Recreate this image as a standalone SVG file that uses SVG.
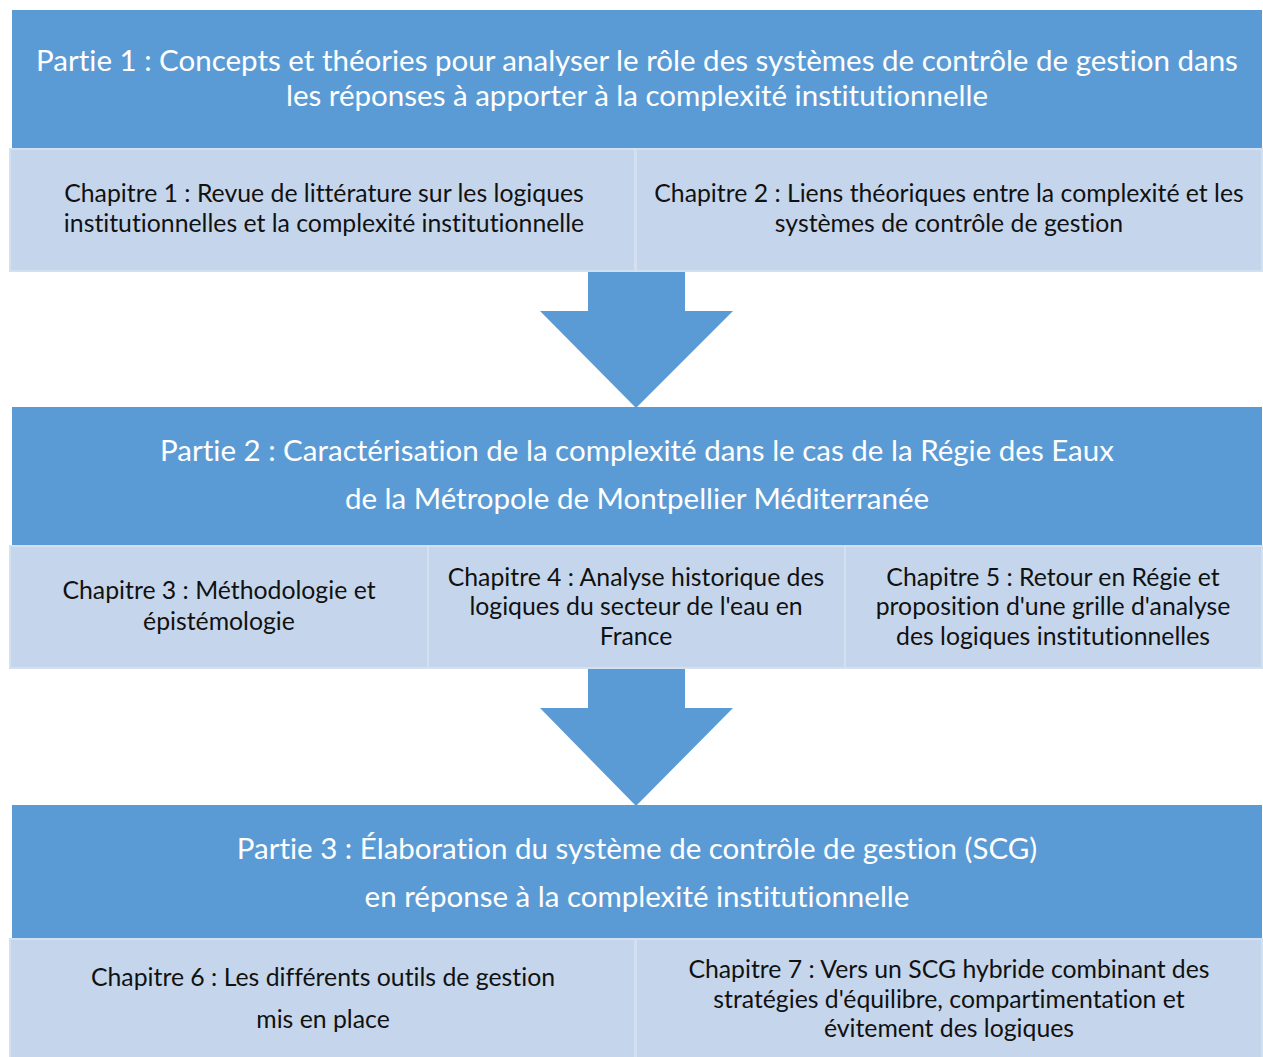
<svg xmlns="http://www.w3.org/2000/svg" width="1263" height="1057" viewBox="0 0 1263 1057">
<style>
.part{fill:#5B9BD5}
.chap{fill:#C5D6EC;stroke:#D3E0F1;stroke-width:2}
.arrow{fill:#5B9BD5}
.pt,.ct{font-family:Lato,"Open Sans","Liberation Sans",sans-serif;text-anchor:middle;font-variant-ligatures:none;font-feature-settings:"liga" 0,"dlig" 0,"clig" 0}
.pt{font-size:29.5px;fill:#FFFFFF}
.ct{font-size:24.8px;fill:#111111}
</style>
<rect width="1263" height="1057" fill="#FFFFFF"/>
<g id="connectors">
<polygon class="arrow" points="588,271 685,271 685,311 733,311 636,408 540,311 588,311"/>
<polygon class="arrow" points="588,668 685,668 685,708 733,708 636,806 540,708 588,708"/>
</g>
<g id="partie1">
<rect class="part" x="12" y="10" width="1250" height="138"/>
<text class="pt" x="637" y="71">Partie 1 : Concepts et théories pour analyser le rôle des systèmes de contrôle de gestion dans</text>
<text class="pt" x="637" y="106">les réponses à apporter à la complexité institutionnelle</text>
</g>
<g id="chapitre1">
<rect class="chap" x="10" y="149" width="625" height="122"/>
<text class="ct" x="324" y="202">Chapitre 1 : Revue de littérature sur les logiques</text>
<text class="ct" x="324" y="232">institutionnelles et la complexité institutionnelle</text>
</g>
<g id="chapitre2">
<rect class="chap" x="636" y="149" width="626" height="122"/>
<text class="ct" x="949" y="202">Chapitre 2 : Liens théoriques entre la complexité et les</text>
<text class="ct" x="949" y="232">systèmes de contrôle de gestion</text>
</g>
<g id="partie2">
<rect class="part" x="12" y="407" width="1250" height="138"/>
<text class="pt" x="637" y="461">Partie 2 : Caractérisation de la complexité dans le cas de la Régie des Eaux</text>
<text class="pt" x="637" y="509">de la Métropole de Montpellier Méditerranée</text>
</g>
<g id="chapitre3">
<rect class="chap" x="10" y="546" width="418" height="122"/>
<text class="ct" x="219" y="599">Chapitre 3 : Méthodologie et</text>
<text class="ct" x="219" y="630">épistémologie</text>
</g>
<g id="chapitre4">
<rect class="chap" x="428" y="546" width="417" height="122"/>
<text class="ct" x="636" y="586">Chapitre 4 : Analyse historique des</text>
<text class="ct" x="636" y="615">logiques du secteur de l'eau en</text>
<text class="ct" x="636" y="645">France</text>
</g>
<g id="chapitre5">
<rect class="chap" x="845" y="546" width="417" height="122"/>
<text class="ct" x="1053" y="586">Chapitre 5 : Retour en Régie et</text>
<text class="ct" x="1053" y="615">proposition d'une grille d'analyse</text>
<text class="ct" x="1053" y="645">des logiques institutionnelles</text>
</g>
<g id="partie3">
<rect class="part" x="12" y="805" width="1250" height="133"/>
<text class="pt" x="637" y="859">Partie 3 : Élaboration du système de contrôle de gestion (SCG)</text>
<text class="pt" x="637" y="907">en réponse à la complexité institutionnelle</text>
</g>
<g id="chapitre6">
<rect class="chap" x="10" y="939" width="625" height="120"/>
<text class="ct" x="323" y="986">Chapitre 6 : Les différents outils de gestion</text>
<text class="ct" x="323" y="1028">mis en place</text>
</g>
<g id="chapitre7">
<rect class="chap" x="636" y="939" width="626" height="120"/>
<text class="ct" x="949" y="978">Chapitre 7 : Vers un SCG hybride combinant des</text>
<text class="ct" x="949" y="1008">stratégies d'équilibre, compartimentation et</text>
<text class="ct" x="949" y="1037">évitement des logiques</text>
</g>
</svg>
